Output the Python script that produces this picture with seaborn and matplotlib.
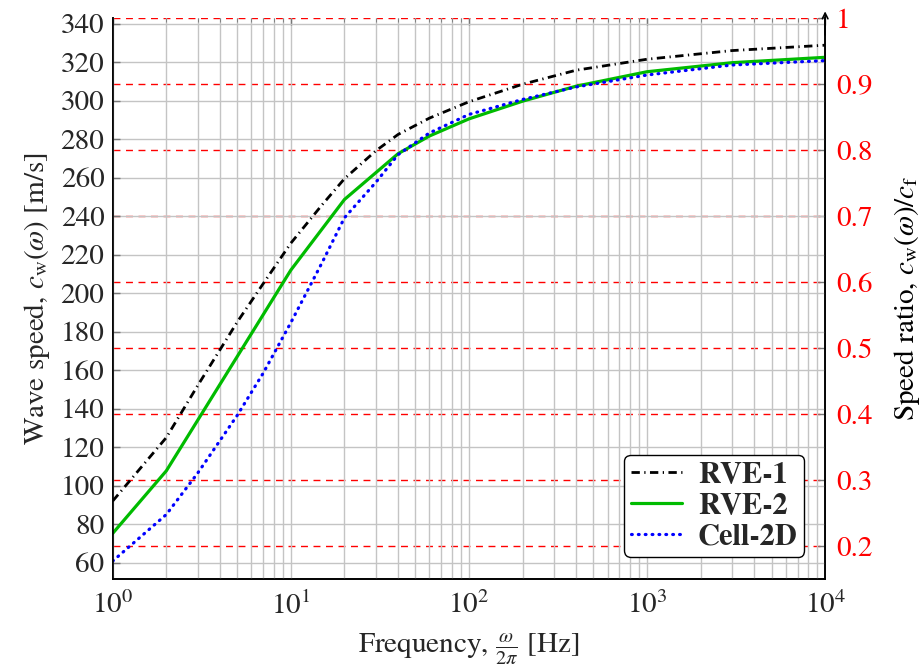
import numpy as np
import pandas as pd
import matplotlib
matplotlib.use("Agg")
import matplotlib.pyplot as plt
import seaborn as sns
from matplotlib.ticker import LogLocator, FixedLocator, NullFormatter

# ---- data ----
rve1_freq = [1, 2, 3, 5, 7, 10, 15, 20, 30, 40, 60, 100, 200, 400, 1000, 3000, 10000]
rve1_speed = [92, 125, 152, 185, 205, 226, 246, 259.5, 274, 282.5, 291, 299.5, 308.6, 315.9, 321.6, 326.1, 328.9]

rve2_freq = [1, 2, 10, 20, 40, 60, 100, 200, 400, 1000, 3000, 10000]
rve2_speed = [75.2, 107.7, 212, 248.7, 272.5, 281.7, 290.6, 299.8, 307.6, 315.1, 319.8, 322.6]

cell_freq = [1, 2, 3, 5, 7, 10, 15, 20, 30, 40, 60, 100, 200, 400, 1000, 3000, 10000]
cell_speed = [60.8, 85, 106.5, 136.5, 158.5, 184.7, 216, 239.2, 257.6, 272, 283.3, 292.9, 300.7, 307.2, 313.4, 318.6, 320.9]

series_names = ["RVE-1", "RVE-2", "Cell-2D"]
c_f = 343.0  # reference speed for the ratio axis
speed_ticks = list(range(60, 341, 20))
ratio_ticks = [0.2, 0.3, 0.4, 0.5, 0.6, 0.7, 0.8, 0.9, 1.0]
ratio_labels = ["0.2", "0.3", "0.4", "0.5", "0.6", "0.7", "0.8", "0.9", "1"]

df = pd.concat([
    pd.DataFrame({"freq": rve1_freq, "speed": rve1_speed, "series": series_names[0]}),
    pd.DataFrame({"freq": rve2_freq, "speed": rve2_speed, "series": series_names[1]}),
    pd.DataFrame({"freq": cell_freq, "speed": cell_speed, "series": series_names[2]}),
])

sns.set_style("white")
plt.rcParams["font.family"] = ["STIXGeneral", "Liberation Serif", "DejaVu Serif"]
plt.rcParams["mathtext.fontset"] = "stix"

fig = plt.figure(figsize=(9.24, 6.69), dpi=100)
ax = fig.add_axes([0.122, 0.1345, 0.771, 0.8385])
ax2 = ax.twinx()
ax.set_zorder(ax2.get_zorder() + 1)
ax.patch.set_visible(False)

styles = {
    "RVE-1": dict(color="black", lw=2.0, dashes=(3.0, 1.6, 0.45, 1.6), cap="butt"),
    "RVE-2": dict(color="#00bb00", lw=2.3, dashes=None, cap="butt"),
    "Cell-2D": dict(color="blue", lw=2.3, dashes=(0.25, 1.9), cap="round"),
}
for name in series_names:
    sub = df[df["series"] == name]
    st = styles[name]
    sns.lineplot(data=sub, x="freq", y="speed", ax=ax, label=name,
                 color=st["color"], lw=st["lw"])
    l = ax.get_lines()[-1]
    if st["dashes"] is not None:
        l.set_dashes(st["dashes"])
    l.set_dash_capstyle(st["cap"])

ax.set_xscale("log")
ax.set_xlim(1, 1e4)
ax.set_ylim(0.15 * c_f, c_f)
ax.set_yticks(speed_ticks)
ax.xaxis.set_major_locator(LogLocator(base=10, numticks=10))
ax.xaxis.set_minor_locator(LogLocator(base=10, subs=np.arange(2, 10), numticks=100))
ax.xaxis.set_minor_formatter(NullFormatter())

grid_col = "#c4c4c4"
ax.grid(True, which="major", axis="both", color=grid_col, lw=1.0)
ax.grid(True, which="minor", axis="x", color=grid_col, lw=1.0)

ax2.set_ylim(0.15, 1.0)
ax2.yaxis.set_major_locator(FixedLocator(ratio_ticks))
ax2.set_yticklabels(ratio_labels)
ax2.grid(True, axis="y", color="red", lw=1.0, linestyle=(0, (5, 4)))
ax2.tick_params(axis="y", colors="red", labelsize=21, direction="in", length=5,
                width=1, pad=8)
ax2.tick_params(axis="y", color="#777777")

ax.tick_params(axis="both", which="major", labelsize=21, direction="in", length=5,
               width=1, color="#777777", top=True)
ax.tick_params(axis="x", which="minor", direction="in", length=3, color="#777777", top=True)
ax.tick_params(axis="x", which="major", pad=9)
ax.tick_params(axis="y", which="major", pad=6)

for a in (ax, ax2):
    a.spines["top"].set_visible(False)
    for s in ("left", "bottom", "right"):
        a.spines[s].set_color("black")
        a.spines[s].set_linewidth(1.2)

ax.set_xlabel(r"Frequency, $\frac{\omega}{2\pi}$ [Hz]", fontsize=21, labelpad=8)
ax.set_ylabel(r"Wave speed, $c_{\mathrm{w}}(\omega)$ [m/s]", fontsize=21, labelpad=6)
ax2.set_ylabel(r"Speed ratio, $c_{\mathrm{w}}(\omega)/c_{\mathrm{f}}$", fontsize=21,
               color="black", labelpad=14)

ax.annotate("", xy=(1.0, 1.012), xytext=(1.0, 0.97), xycoords="axes fraction",
            arrowprops=dict(arrowstyle="->", lw=1.2, color="black",
                            shrinkA=0, shrinkB=0), annotation_clip=False)

leg = ax.legend(loc="lower right", bbox_to_anchor=(0.97, 0.04), frameon=True,
                fancybox=True, framealpha=1, edgecolor="black",
                prop={"weight": "bold", "size": 22}, handlelength=1.7,
                borderpad=0.2, labelspacing=0.12, handletextpad=0.5,
                borderaxespad=0.0)
leg.get_frame().set_linewidth(1.0)

fig.savefig("out.png", dpi=100)
